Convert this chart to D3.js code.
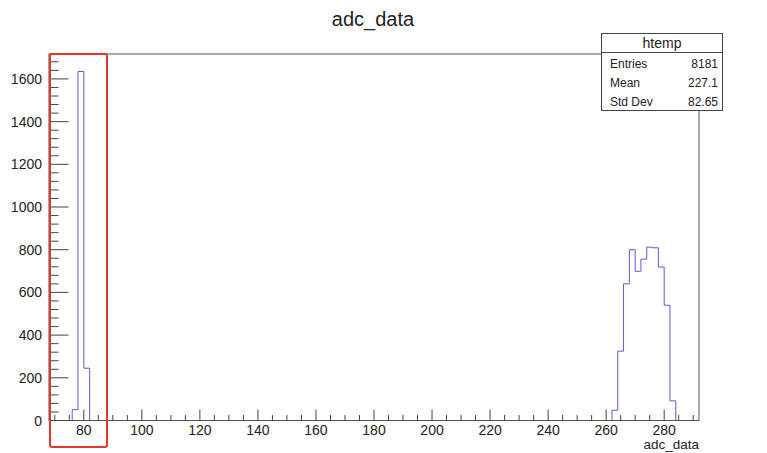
<!DOCTYPE html>
<html>
<head>
<meta charset="utf-8">
<script src="https://cdn.jsdelivr.net/npm/d3@7"></script>
<style>
  body { margin: 0; background: #fff; }
  text { font-family: "Liberation Sans", Arial, sans-serif; fill: #222; }
</style>
</head>
<body>
<div id="chart"></div>
<script>
var W = 767, H = 453;

// histogram bins: lower edge, width 2
var binLow = [76, 78, 80, 262, 264, 266, 268, 270, 272, 274, 276, 278, 280, 282];
var binCount = [51, 1635, 245, 48, 325, 640, 800, 699, 756, 812, 809, 719, 540, 92];
var binWidth = 2;
var xTicks = [80, 100, 120, 140, 160, 180, 200, 220, 240, 260, 280];
var yTicks = [0, 200, 400, 600, 800, 1000, 1200, 1400, 1600];
var statNames = ["Entries", "Mean", "Std Dev"];
var statValues = ["8181", "227.1", "82.65"];

var frame = {left: 49, right: 699, top: 54, bottom: 420.5};

var x = d3.scaleLinear().domain([68, 292]).range([frame.left, frame.right]);
var y = d3.scaleLinear().domain([0, d3.max(binCount) * 1.05]).range([frame.bottom, frame.top]);

var svg = d3.select("#chart").append("svg")
  .attr("width", W)
  .attr("height", H);

// title
svg.append("text")
  .attr("x", 373).attr("y", 26)
  .attr("text-anchor", "middle")
  .style("font-size", "20px")
  .text("adc_data");

// frame
svg.append("rect")
  .attr("x", frame.left).attr("y", frame.top)
  .attr("width", frame.right - frame.left)
  .attr("height", frame.bottom - frame.top)
  .attr("fill", "none")
  .attr("stroke", "#555")
  .attr("stroke-width", 1);

// x ticks, drawn inward (ROOT style)
var xMinor = d3.range(70, 292, 5);
svg.append("g").selectAll("line").data(xMinor).join("line")
  .attr("x1", d => x(d)).attr("x2", d => x(d))
  .attr("y1", frame.bottom)
  .attr("y2", d => frame.bottom - (d % 20 === 0 ? 11 : 5.5))
  .attr("stroke", "#444");

svg.append("g").selectAll("text").data(xTicks).join("text")
  .attr("x", d => x(d)).attr("y", 435)
  .attr("text-anchor", "middle")
  .style("font-size", "14px")
  .text(d => d);

svg.append("text")
  .attr("x", frame.right).attr("y", 449)
  .attr("text-anchor", "end")
  .style("font-size", "13.5px")
  .text("adc_data");

// y ticks
var yMinor = d3.range(0, y.domain()[1], 40);
svg.append("g").selectAll("line").data(yMinor).join("line")
  .attr("y1", d => y(d)).attr("y2", d => y(d))
  .attr("x1", frame.left)
  .attr("x2", d => frame.left + (d % 200 === 0 ? 19.5 : 9.5))
  .attr("stroke", "#444");

svg.append("g").selectAll("text").data(yTicks).join("text")
  .attr("x", 42).attr("y", d => y(d) + 5)
  .attr("text-anchor", "end")
  .style("font-size", "14px")
  .text(d => d);

// histogram outline as steps, grouping contiguous bins
var groups = [];
binLow.forEach(function(lo, i) {
  var g = groups[groups.length - 1];
  if (g && g.end === lo) { g.bins.push(i); g.end = lo + binWidth; }
  else groups.push({bins: [i], end: lo + binWidth});
});

var line = d3.line().x(d => x(d[0])).y(d => y(d[1]));
groups.forEach(function(g) {
  var pts = [];
  g.bins.forEach(function(i) {
    pts.push([binLow[i], binCount[i]]);
    pts.push([binLow[i] + binWidth, binCount[i]]);
  });
  pts.unshift([binLow[g.bins[0]], 0]);
  pts.push([g.end, 0]);
  svg.append("path")
    .attr("d", line(pts))
    .attr("fill", "none")
    .attr("stroke", "#5a5ad2")
    .attr("stroke-width", 1);
});

// stats box
var sb = {x: 601.5, y: 33.5, w: 121, h: 77};
var box = svg.append("g");
box.append("rect")
  .attr("x", sb.x).attr("y", sb.y).attr("width", sb.w).attr("height", sb.h)
  .attr("fill", "#fff").attr("stroke", "#444");
box.append("line")
  .attr("x1", sb.x).attr("x2", sb.x + sb.w)
  .attr("y1", 52.5).attr("y2", 52.5)
  .attr("stroke", "#444");
box.append("text")
  .attr("x", sb.x + sb.w / 2).attr("y", 48)
  .attr("text-anchor", "middle")
  .style("font-size", "14px")
  .text("htemp");
statNames.forEach(function(n, i) {
  box.append("text")
    .attr("x", 610).attr("y", 68 + i * 19)
    .style("font-size", "12px")
    .text(n);
  box.append("text")
    .attr("x", 718).attr("y", 68 + i * 19)
    .attr("text-anchor", "end")
    .style("font-size", "12px")
    .text(statValues[i]);
});

// red highlight box around the first peak
svg.append("rect")
  .attr("x", 50).attr("y", 54)
  .attr("width", 57).attr("height", 393)
  .attr("rx", 2)
  .attr("fill", "none")
  .attr("stroke", "#e8362d")
  .attr("stroke-width", 2);
</script>
</body>
</html>
